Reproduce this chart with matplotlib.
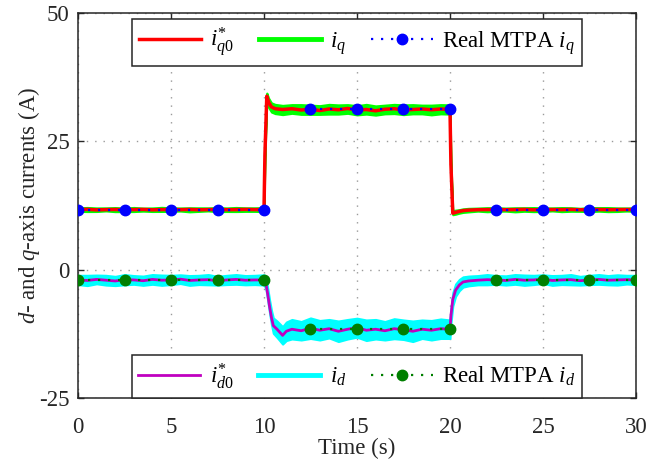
import matplotlib
matplotlib.use("Agg")
import matplotlib.pyplot as plt
from matplotlib.lines import Line2D
import numpy as np

# ---------------- data ----------------
t_q = [0, 0.5, 1, 1.5, 2, 2.5, 3, 3.5, 4, 4.5, 5, 5.5, 6, 6.5, 7, 7.5, 8, 8.5, 9, 9.5,
       10.0, 10.05, 10.15, 10.25, 10.4, 10.6,
       11, 11.5, 12, 12.5, 13, 13.5, 14, 14.5, 15, 15.5, 16, 16.5, 17, 17.5, 18, 18.5, 19, 19.5,
       20.0, 20.05, 20.15, 20.3, 20.5, 20.7,
       21, 21.5, 22, 22.5, 23, 23.5, 24, 24.5, 25, 25.5, 26, 26.5, 27, 27.5, 28, 28.5, 29, 29.5, 30]

iq_ref = [11.7, 11.75, 11.65, 11.7, 11.72, 11.68, 11.7, 11.74, 11.66, 11.7, 11.71, 11.69, 11.73, 11.67, 11.7, 11.72, 11.68, 11.7, 11.74, 11.7,
          11.7, 22.5, 33.8, 32.6, 31.7, 31.35,
          31.2, 31.35, 31.1, 31.25, 31.0, 31.3, 31.15, 31.4, 31.1, 31.2, 30.95, 31.25, 31.35, 31.1, 31.2, 31.3, 31.15, 31.3,
          31.2, 20.5, 11.0, 11.15, 11.35, 11.5,
          11.6, 11.68, 11.7, 11.72, 11.68, 11.7, 11.74, 11.66, 11.7, 11.71, 11.69, 11.73, 11.67, 11.7, 11.72, 11.68, 11.7, 11.72, 11.7]

iq_meas = [11.7, 11.72, 11.68, 11.74, 11.7, 11.66, 11.72, 11.7, 11.68, 11.74, 11.7, 11.72, 11.66, 11.7, 11.74, 11.7, 11.68, 11.72, 11.7, 11.7,
           11.7, 22.5, 33.6, 32.5, 31.6, 31.3,
           31.1, 31.3, 31.2, 31.15, 31.1, 31.25, 31.2, 31.3, 31.05, 31.25, 31.0, 31.2, 31.3, 31.15, 31.25, 31.2, 31.1, 31.25,
           31.2, 20.5, 11.1, 11.2, 11.35, 11.5,
           11.6, 11.7, 11.68, 11.72, 11.7, 11.66, 11.72, 11.7, 11.68, 11.74, 11.7, 11.72, 11.66, 11.7, 11.74, 11.7, 11.68, 11.72, 11.7]

iq_spread = [0.35, 0.4, 0.35, 0.3, 0.4, 0.35, 0.4, 0.3, 0.35, 0.4, 0.35, 0.3, 0.4, 0.35, 0.3, 0.4, 0.35, 0.4, 0.35, 0.35,
             0.4, 0.6, 0.8, 0.9, 0.9, 0.9,
             0.9, 0.85, 0.95, 0.9, 0.85, 0.95, 0.9, 0.85, 0.9, 0.95, 0.9, 0.85, 0.9, 0.95, 0.9, 0.85, 0.95, 0.9,
             0.9, 0.6, 0.4, 0.4, 0.35, 0.35,
             0.35, 0.3, 0.4, 0.35, 0.3, 0.4, 0.35, 0.4, 0.35, 0.3, 0.4, 0.35, 0.3, 0.4, 0.35, 0.4, 0.35, 0.3, 0.35]

t_d = [0, 0.5, 1, 1.5, 2, 2.5, 3, 3.5, 4, 4.5, 5, 5.5, 6, 6.5, 7, 7.5, 8, 8.5, 9, 9.5,
       10.0, 10.1, 10.2, 10.3, 10.4, 10.5, 10.7, 11.0, 11.2,
       11.5, 12, 12.5, 13, 13.5, 14, 14.5, 15, 15.5, 16, 16.5, 17, 17.5, 18, 18.5, 19, 19.5,
       20.0, 20.05, 20.15, 20.3, 20.5, 20.7,
       21, 21.5, 22, 22.5, 23, 23.5, 24, 24.5, 25, 25.5, 26, 26.5, 27, 27.5, 28, 28.5, 29, 29.5, 30]

id_ref = [-2.0, -2.1, -1.9, -2.05, -2.2, -1.95, -2.0, -2.15, -1.9, -2.05, -2.0, -1.85, -2.1, -2.0, -1.95, -2.15, -2.0, -1.9, -2.05, -2.0,
          -2.0, -2.6, -4.8, -7.2, -9.3, -10.9, -11.6, -12.8, -12.0,
          -11.6, -11.9, -11.4, -11.8, -11.5, -12.0, -11.6, -11.3, -11.8, -11.6, -11.9, -11.5, -11.7, -12.0, -11.6, -11.8, -11.5,
          -11.6, -9.0, -5.8, -4.0, -3.0, -2.4,
          -2.2, -2.05, -1.95, -2.0, -2.1, -1.9, -2.05, -2.0, -1.85, -2.1, -2.0, -1.95, -2.15, -2.0, -1.9, -2.05, -2.0, -1.95, -2.0]

id_spread = [0.9, 1.0, 0.85, 0.95, 0.9, 1.0, 0.85, 0.9, 0.95, 1.0, 0.9, 0.85, 0.95, 0.9, 1.0, 0.85, 0.9, 0.95, 0.9, 0.9,
             1.0, 1.1, 1.2, 1.3, 1.4, 1.5, 1.6, 1.7, 1.8,
             1.9, 1.8, 2.0, 1.9, 1.8, 2.0, 1.9, 1.85, 2.0, 1.9, 1.8, 1.95, 1.9, 2.0, 1.8, 1.9, 1.9,
             1.8, 1.5, 1.3, 1.2, 1.1, 1.0,
             0.95, 0.9, 1.0, 0.85, 0.9, 0.95, 1.0, 0.9, 0.85, 0.95, 0.9, 1.0, 0.85, 0.9, 0.95, 0.9, 1.0, 0.85, 0.9]

# real MTPA values (steady-state), markers every 2.5 s; NaN separates the three load levels
t_mtpa = [0, 2.5, 5, 7.5, 10, 11, 12.5, 15, 17.5, 20, 21, 22.5, 25, 27.5, 30]
iq_mtpa = [11.7, 11.7, 11.7, 11.7, 11.7, np.nan, 31.2, 31.2, 31.2, 31.2, np.nan, 11.7, 11.7, 11.7, 11.7]
id_mtpa = [-2.0, -2.0, -2.0, -2.0, -2.0, np.nan, -11.6, -11.6, -11.6, -11.6, np.nan, -2.0, -2.0, -2.0, -2.0]

x_ticks = [0, 5, 10, 15, 20, 25, 30]
y_ticks = [-25, 0, 25, 50]
y_ticklabels = ["-25", "0", "25", "50"]

# ---------------- style ----------------
plt.rcParams['font.family'] = ['Liberation Serif', 'DejaVu Serif']
plt.rcParams['mathtext.fontset'] = 'custom'
plt.rcParams['mathtext.rm'] = 'Liberation Serif'
plt.rcParams['mathtext.it'] = 'Liberation Serif:italic'
plt.rcParams['mathtext.bf'] = 'Liberation Serif:bold'

fig = plt.figure(figsize=(6.6, 4.62), dpi=100)
ax = fig.add_axes([0.1182, 0.1385, 0.8454, 0.8334])

c_red = '#ff0000'
c_green = '#00ff00'
c_blue = '#0000ff'
c_mag = '#c000c0'
c_cyan = '#00ffff'
c_dgreen = '#007f00'

FS = 16.5

tq = np.array(t_q)
iqm = np.array(iq_meas)
iqs = np.array(iq_spread)
td = np.array(t_d)
idr = np.array(id_ref)
ids = np.array(id_spread)

# measured iq band
ax.fill_between(tq, iqm - iqs, iqm + iqs, color=c_green, lw=1.5, edgecolor=c_green, zorder=2)
ax.plot(tq, iq_ref, color=c_red, lw=2.5, zorder=3)
ax.plot(t_mtpa, iq_mtpa, color=c_blue, lw=1.6, linestyle=(0, (1, 3.5)),
        marker='o', markersize=7.5, zorder=4)

# measured id band
ax.fill_between(td, idr - ids, idr + ids, color=c_cyan, lw=1.5, edgecolor=c_cyan, zorder=2)
ax.plot(td, id_ref, color=c_mag, lw=2.0, zorder=3)
ax.plot(t_mtpa, id_mtpa, color=c_dgreen, lw=1.6, linestyle=(0, (1, 3.5)),
        marker='o', markersize=7.5, zorder=4)

ax.set_xlim(0, 30)
ax.set_ylim(-25, 50)
ax.set_xticks(x_ticks)
ax.set_yticks(y_ticks)
ax.set_yticklabels(y_ticklabels)
ax.tick_params(direction='in', length=4, width=1, top=True, right=True,
               labelsize=FS, colors='#262626')
ax.tick_params(axis='x', pad=13.5)
ax.tick_params(axis='y', pad=6)
for s in ax.spines.values():
    s.set_linewidth(1.1)
    s.set_color('#262626')
ax.grid(True, color='#9a9a9a', linestyle=(0, (1, 5)), linewidth=1.0)
ax.set_axisbelow(True)

ax.set_xlabel('Time (s)', fontsize=FS, labelpad=0, color='#262626')
ax.set_ylabel('$d$- and $q$-axis currents (A)', fontsize=FS, labelpad=-2, color='#262626')

# legends
def mtpa_handle(color):
    h = Line2D([0, 0.5, 1], [0, 0, 0], color=color, lw=1.6, linestyle=(0, (1, 3.5)),
               marker='o', markersize=7.5, markevery=[1])
    return h

h_top = [Line2D([], [], color=c_red, lw=2.5),
         Line2D([], [], color=c_green, lw=3.5),
         mtpa_handle(c_blue)]
h_bot = [Line2D([], [], color=c_mag, lw=2.0),
         Line2D([], [], color=c_cyan, lw=3.5),
         mtpa_handle(c_dgreen)]

lab_top = ['$i_{q0}^{*}$', '$i_q$', 'Real MTPA $i_q$']
lab_bot = ['$i_{d0}^{*}$', '$i_d$', 'Real MTPA $i_d$']

leg_kw = dict(ncol=3, fontsize=FS, handlelength=2.7, handletextpad=0.4, columnspacing=1.1,
              frameon=True, fancybox=False, framealpha=1, edgecolor='#262626', borderpad=0.3,
              borderaxespad=0)
leg1 = ax.legend(h_top, lab_top, loc='upper center', bbox_to_anchor=(0.5, 0.984), **leg_kw)
leg1.get_frame().set_linewidth(1.1)
ax.add_artist(leg1)
leg2 = ax.legend(h_bot, lab_bot, loc='lower center', bbox_to_anchor=(0.5, 0.0), **leg_kw)
leg2.get_frame().set_linewidth(1.1)

fig.savefig('out.png', dpi=100)
